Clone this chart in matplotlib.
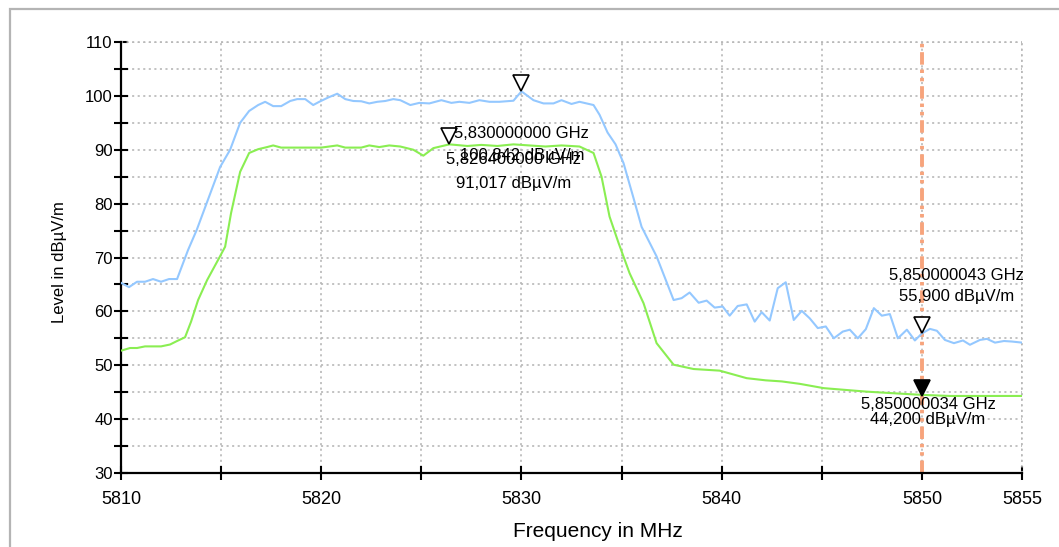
import numpy as np
import matplotlib.pyplot as plt
from matplotlib.patches import Rectangle
import matplotlib.transforms as mtransforms

plt.rcParams['font.family'] = ['Liberation Sans', 'DejaVu Sans']
plt.rcParams['lines.scale_dashes'] = False

# blue trace (MHz, dBuV/m)
blue_f = [5810.0, 5810.4, 5810.8, 5811.2, 5811.6, 5812.0, 5812.4, 5812.8, 5813.35, 5813.78,
          5814.1, 5814.95, 5815.45, 5815.95, 5816.4, 5816.85, 5817.2, 5817.6, 5818.0, 5818.45,
          5818.8, 5819.2, 5819.6, 5819.9, 5820.35, 5820.8, 5821.2, 5821.6, 5822.0, 5822.4,
          5822.8, 5823.2, 5823.6, 5823.95, 5824.45, 5824.9, 5825.4, 5826.0, 5826.5, 5826.9,
          5827.4, 5827.9, 5828.4, 5828.9, 5829.6, 5830.0, 5830.6, 5831.1, 5831.6, 5832.0,
          5832.5, 5832.9, 5833.6, 5833.9, 5834.3, 5834.7, 5835.1, 5835.6, 5836.0, 5836.75,
          5837.6, 5838.0, 5838.4, 5838.85, 5839.25, 5839.65, 5840.05, 5840.4, 5840.8, 5841.25,
          5841.65, 5842.0, 5842.4, 5842.8, 5843.2, 5843.6, 5844.0, 5844.4, 5844.8, 5845.2,
          5845.6, 5846.05, 5846.4, 5846.8, 5847.2, 5847.6, 5848.0, 5848.4, 5848.8, 5849.25,
          5849.65, 5850.0, 5850.4, 5850.75, 5851.15, 5851.6, 5852.05, 5852.4, 5852.9, 5853.25,
          5853.65, 5854.1, 5854.5, 5855.0]
blue_lvl = [65.3, 64.5, 65.5, 65.5, 66.0, 65.5, 66.0, 66.0, 71.4, 75.1,
            78.3, 86.8, 90.0, 95.0, 97.2, 98.3, 98.9, 98.1, 98.1, 99.05,
            99.4, 99.4, 98.3, 98.9, 99.7, 100.4, 99.4, 99.05, 99.0, 98.6,
            98.9, 99.05, 99.4, 99.2, 98.3, 98.7, 98.6, 99.2, 98.7, 98.9,
            98.7, 99.2, 98.9, 98.9, 99.1, 100.84, 99.2, 98.6, 98.6, 99.2,
            98.5, 98.9, 98.3, 96.5, 93.2, 91.0, 87.5, 81.0, 75.7, 70.2,
            62.1, 62.45, 63.5, 61.6, 62.0, 60.7, 60.9, 59.2, 61.0, 61.3,
            58.1, 59.85, 58.3, 64.3, 65.4, 58.4, 60.1, 58.7, 56.9, 57.2,
            55.0, 56.25, 56.6, 55.0, 56.7, 60.6, 59.2, 59.5, 55.0, 56.6,
            54.6, 55.9, 56.75, 56.4, 54.7, 54.1, 54.6, 53.8, 54.7, 54.9,
            54.2, 54.5, 54.4, 54.2]

# green trace
green_f = [5810.0, 5810.45, 5810.8, 5811.2, 5812.0, 5812.45, 5812.8, 5813.2, 5813.5, 5813.85,
           5814.3, 5814.9, 5815.2, 5815.5, 5815.95, 5816.4, 5816.85, 5817.3, 5817.6, 5818.0,
           5819.0, 5820.0, 5820.8, 5821.2, 5822.0, 5822.4, 5822.9, 5823.4, 5823.95, 5824.6,
           5825.1, 5825.6, 5826.4, 5827.3, 5828.0, 5828.8, 5829.6, 5830.4, 5831.2, 5832.0,
           5832.9, 5833.6, 5834.0, 5834.4, 5834.85, 5835.4, 5836.1, 5836.75, 5837.6, 5838.6,
           5839.9, 5841.25, 5842.2, 5843.0, 5843.9, 5845.1, 5846.25, 5847.25, 5848.6, 5850.0,
           5851.4, 5855.0]
green_lvl = [52.7, 53.2, 53.2, 53.5, 53.5, 53.85, 54.5, 55.2, 58.1, 62.1,
             65.8, 69.9, 72.0, 78.3, 85.9, 89.4, 90.1, 90.5, 90.8, 90.4,
             90.4, 90.4, 90.8, 90.4, 90.4, 90.8, 90.5, 90.8, 90.6, 90.0,
             88.9, 90.3, 91.0, 90.7, 90.9, 90.7, 91.0, 90.8, 90.6, 90.8,
             90.6, 89.4, 85.0, 77.6, 72.7, 67.1, 61.5, 54.1, 50.1, 49.3,
             49.0, 47.6, 47.2, 47.0, 46.55, 45.75, 45.4, 45.1, 44.8, 44.5,
             44.3, 44.3]

# markers: freq (MHz), level, filled
mark_f = [5830.0, 5826.4, 5850.0000043, 5850.0000034]
mark_lvl = [100.842, 91.017, 55.9, 44.2]
mark_filled = [False, False, False, True]

# marker readouts: (x, y) in data units
labels = [("5,830000000 GHz", 5830.0, 93.1), ("100,842 dBµV/m", 5830.03, 89.0),
          ("5,826400000 GHz", 5829.58, 88.1), ("91,017 dBµV/m", 5829.63, 83.8),
          ("5,850000043 GHz", 5851.71, 66.75), ("55,900 dBµV/m", 5851.71, 62.67),
          ("5,850000034 GHz", 5850.31, 42.8), ("44,200 dBµV/m", 5850.31, 39.84)]

fig = plt.figure(figsize=(10.59, 5.47), dpi=100)
ax = fig.add_axes([121 / 1059, 74 / 547, 901 / 1059, 431 / 547])

# outer frame running off the right and bottom edges
fig.patches.append(Rectangle((10 / 1059, -0.05), 1.1, 538 / 547 + 0.05, transform=fig.transFigure,
                             fill=False, edgecolor='#b4b4b4', lw=1.6))

ax.plot(blue_f, blue_lvl, color='#94c8ff', lw=1.5, zorder=3)
ax.plot(green_f, green_lvl, color='#8aee52', lw=1.5, zorder=3)

ax.axvline(5850, color='#f7a47c', lw=2.8, dashes=[9, 3.5, 2.5, 3.5, 2.5, 3.5], zorder=2)

# triangles sit with their tip on the trace
ms = 11
up = mtransforms.offset_copy(ax.transData, fig=fig, x=0, y=ms / 2 + 0.3, units='points')
for f, l, filled in zip(mark_f, mark_lvl, mark_filled):
    ax.plot(f, l, marker='v', ms=ms, mfc='black' if filled else 'white', mec='black',
            mew=1.2, transform=up, zorder=5, clip_on=False)

for txt, x, y in labels:
    ax.text(x, y, txt, ha='center', va='center', fontsize=12, zorder=6)

ax.set_xlim(5810, 5855)
ax.set_ylim(30, 110)
ax.set_xticks(np.arange(5810, 5856, 5))
ax.set_xticklabels(['5810', '', '5820', '', '5830', '', '5840', '', '5850', '5855'])
ax.set_yticks(np.arange(30, 111, 5))
ax.set_yticklabels([str(v) if v % 10 == 0 else '' for v in range(30, 111, 5)])
ax.tick_params(axis='x', direction='inout', length=10, width=1.5, labelsize=13, pad=8)
ax.tick_params(axis='y', direction='inout', length=10, width=1.5, labelsize=12, pad=1)

ax.grid(True, color='#b8b8b8', linestyle=(0, (1.5, 2.5)), lw=1.2)
for s in ['top', 'right']:
    ax.spines[s].set_visible(False)
for s in ['left', 'bottom']:
    ax.spines[s].set_linewidth(1.6)
# dotted border along the top and right limits
ax.axhline(110, color='#b8b8b8', linestyle=(0, (1.5, 2.5)), lw=1.2, clip_on=False)
ax.axvline(5855, color='#b8b8b8', linestyle=(0, (1.5, 2.5)), lw=1.2, clip_on=False)

ax.set_xlabel('Frequency in MHz', fontsize=15)
ax.xaxis.set_label_coords(0.529, -0.113)
ax.set_ylabel('Level in dBµV/m', fontsize=12)
ax.yaxis.set_label_coords(-0.06, 0.49)

fig.savefig('out.png', dpi=100)
